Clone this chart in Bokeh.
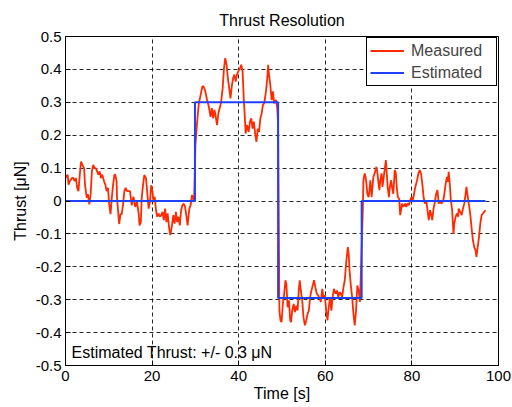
from bokeh.plotting import figure
from bokeh.models import FixedTicker, Label, Legend, LegendItem
from bokeh.embed import file_html
from bokeh.resources import INLINE

# ---------------- data ----------------
time_a = [0.0, 0.5, 0.7, 1.0, 1.5, 1.8, 2.1, 2.4, 2.7, 3.0, 3.3, 3.6, 3.9, 4.3, 4.5, 4.9, 5.2, 5.5, 5.8, 6.1,
          6.4, 6.7, 7.0, 7.3, 7.6, 7.9, 8.2, 8.5, 8.9, 9.2, 9.5, 9.8, 10.1, 10.4, 10.7, 11.0, 11.3, 11.5, 11.8, 11.9,
          12.2, 12.4, 12.7, 13.0, 13.3, 13.6, 13.9, 14.2, 14.5, 14.9]
thrust_a = [0.07, 0.08, 0.05, 0.06, 0.07, 0.07, 0.06, 0.07, 0.04, 0.03, 0.08, 0.12, 0.11, 0.10, 0.05, 0.01, 0.02, -0.01, 0.02, 0.09,
            0.11, 0.10, 0.10, 0.09, 0.08, 0.09, 0.07, 0.08, 0.06, 0.05, 0.03, 0.04, -0.01, -0.04, 0.01, 0.05, 0.08, 0.08, 0.06, 0.01,
            -0.04, -0.07, -0.04, -0.04, -0.01, 0.03, 0.04, 0.03, 0.03, 0.03]

time_b = [15.3, 15.7, 16.1, 16.5, 16.9, 17.1, 17.4, 17.6, 17.9, 18.2, 18.6, 18.8, 19.2, 19.5, 19.8, 20.1, 20.3, 20.6, 20.9, 21.2,
          21.5, 21.8, 22.1, 22.4, 22.7, 23.0, 23.3, 23.6, 23.9, 24.2, 24.6, 24.9, 25.2, 25.5, 25.8, 26.1, 26.4, 26.7, 27.0, 27.3,
          27.6, 27.9, 28.2, 28.6, 28.9, 29.2, 29.5, 29.7]
thrust_b = [-0.013, 0.013, -0.018, -0.003, -0.038, -0.074, -0.064, 0.008, 0.048, 0.079, 0.069, 0.038, -0.023, -0.003, 0.048, 0.028, -0.003, 0.013, -0.028, -0.048,
            -0.038, -0.048, -0.043, -0.033, -0.058, -0.023, -0.064, -0.038, -0.079, -0.104, -0.074, -0.043, -0.069, -0.033, -0.064, -0.048, -0.074, -0.028, -0.013, -0.008,
            -0.018, -0.043, -0.074, -0.023, -0.013, 0.018, 0.008, -0.003]

time_c = [30.0, 30.4, 30.8, 31.2, 31.6, 31.9, 32.3, 32.7, 33.1, 33.5, 33.8, 34.1, 34.4, 34.7, 35.0, 35.3, 35.6, 35.9, 36.3, 36.6,
          36.9, 37.2, 37.5, 37.8, 38.1, 38.4, 38.7, 39.0, 39.3, 39.6, 39.9, 40.3, 40.6, 40.9, 41.2, 41.4, 41.6, 41.9, 42.3, 42.6,
          42.9, 43.2, 43.5, 43.8, 44.1, 44.4, 44.7, 45.0, 45.3, 45.6, 45.9, 46.3, 46.6, 46.8, 47.0, 47.3, 47.6, 47.9, 48.2, 48.6,
          48.9, 49.1]
thrust_c = [0.17, 0.241, 0.297, 0.322, 0.348, 0.348, 0.333, 0.307, 0.287, 0.256, 0.282, 0.251, 0.277, 0.256, 0.231, 0.266, 0.282, 0.297, 0.343, 0.404,
            0.434, 0.414, 0.373, 0.343, 0.312, 0.348, 0.373, 0.384, 0.363, 0.384, 0.394, 0.404, 0.414, 0.394, 0.302, 0.261, 0.205, 0.231, 0.21, 0.241,
            0.251, 0.22, 0.241, 0.205, 0.18, 0.22, 0.21, 0.251, 0.266, 0.292, 0.297, 0.333, 0.373, 0.414, 0.384, 0.353, 0.307, 0.333, 0.297, 0.307,
            0.282, 0.23]

time_d = [49.4, 49.65, 49.9, 50.2, 50.5, 50.8, 51.0, 51.3, 51.6, 51.9, 52.1, 52.35, 52.7, 52.96, 53.3, 53.6, 53.9, 54.1, 54.35, 54.7,
          54.96, 55.3, 55.6, 55.9, 56.2, 56.5, 56.8, 57.1, 57.4, 57.7, 58.04, 58.35, 58.7, 58.96, 59.3, 59.6, 59.9, 60.2, 60.5, 60.8,
          61.1, 61.4, 61.7, 62.0, 62.4, 62.7, 63.0, 63.3, 63.6, 63.9, 64.2, 64.5, 64.8, 65.2, 65.4, 65.6, 65.9, 66.2, 66.5, 66.8,
          67.1, 67.4, 67.7, 68.0]
thrust_d = [-0.333, -0.363, -0.368, -0.313, -0.282, -0.241, -0.252, -0.323, -0.302, -0.363, -0.368, -0.333, -0.313, -0.338, -0.318, -0.333, -0.267, -0.241, -0.272, -0.307,
            -0.353, -0.378, -0.363, -0.343, -0.333, -0.292, -0.272, -0.257, -0.241, -0.262, -0.282, -0.287, -0.297, -0.307, -0.267, -0.297, -0.287, -0.333, -0.363, -0.323,
            -0.292, -0.333, -0.292, -0.267, -0.282, -0.272, -0.292, -0.277, -0.282, -0.292, -0.262, -0.241, -0.191, -0.14, -0.16, -0.211, -0.257, -0.292, -0.343, -0.378,
            -0.333, -0.257, -0.272, -0.307]

time_e = [68.5, 68.7, 68.8, 69.1, 69.3, 69.5, 69.7, 70.0, 70.2, 70.4, 70.7, 70.9, 71.1, 71.4, 71.6, 71.8, 72.05, 72.3, 72.5, 72.7,
          73.0, 73.2, 73.4, 73.7, 74.0, 74.2, 74.4, 74.7, 74.9, 75.2, 75.4, 75.7, 76.05, 76.3, 76.5, 76.75, 77.06, 77.3, 77.5, 77.7,
          78.0, 78.4, 78.7, 79.0, 79.3, 79.6, 79.9, 80.2, 80.5, 80.8, 81.2, 81.5, 81.8, 82.1, 82.4, 82.7, 83.0, 83.3, 83.6, 83.9,
          84.2]
thrust_e = [-0.1, -0.008, 0.063, 0.084, 0.073, 0.053, 0.022, 0.012, 0.033, 0.063, 0.012, 0.043, 0.073, 0.084, 0.094, 0.104, 0.084, 0.053, 0.033, 0.063,
            0.084, 0.043, 0.063, 0.094, 0.124, 0.084, 0.043, 0.012, 0.043, 0.063, 0.043, 0.022, 0.094, 0.084, 0.043, 0.012, 0.007, -0.043, -0.028, -0.008,
            -0.018, -0.008, -0.018, -0.008, -0.013, 0.002, 0.012, 0.002, 0.022, 0.043, 0.063, 0.084, 0.094, 0.084, 0.053, 0.012, -0.008, 0.002, -0.028, -0.058,
            -0.028]

time_f = [84.4, 84.7, 85.0, 85.3, 85.6, 85.9, 86.2, 86.5, 86.8, 87.1, 87.4, 87.8, 88.1, 88.3, 88.5, 88.8, 89.0, 89.3, 89.6, 89.8,
          90.1, 90.4, 90.7, 90.8, 91.2, 91.5, 91.8, 92.1, 92.4, 92.6, 92.8, 93.2, 93.5, 93.8, 94.1, 94.4, 94.7, 94.9, 95.2, 95.5,
          95.8, 96.1, 96.4, 96.7, 97.0]
thrust_f = [-0.038, -0.058, -0.023, -0.003, 0.022, 0.033, -0.008, 0.002, -0.008, -0.003, 0.012, 0.053, 0.073, 0.058, 0.089, 0.043, 0.002, -0.028, -0.1, -0.069,
            -0.048, -0.038, -0.048, -0.023, -0.033, -0.043, -0.023, -0.008, 0.022, 0.043, 0.022, -0.013, -0.043, -0.084, -0.12, -0.14, -0.15, -0.17, -0.14, -0.109,
            -0.069, -0.043, -0.038, -0.033, -0.028]

# Estimated thrust (step profile)
est_time = [0.0, 29.9, 29.9, 49.1, 49.1, 68.4, 68.4, 97.0]
est_thrust = [0.0, 0.0, 0.3, 0.3, -0.295, -0.295, 0.0, 0.0]

x_ticks = [0, 20, 40, 60, 80, 100]
y_ticks = [-0.5, -0.4, -0.3, -0.2, -0.1, 0, 0.1, 0.2, 0.3, 0.4, 0.5]
y_tick_labels = ["-0.5", "-0.4", "-0.3", "-0.2", "-0.1", "0", "0.1", "0.2", "0.3", "0.4", "0.5"]

meas_time = time_a + time_b + time_c + time_d + time_e + time_f
meas_thrust = thrust_a + thrust_b + thrust_c + thrust_d + thrust_e + thrust_f
n = min(len(meas_time), len(meas_thrust))
meas_time = meas_time[:n]
meas_thrust = meas_thrust[:n]

FONT = "Liberation Sans"

p = figure(width=512, height=407, x_range=(0, 100), y_range=(-0.5, 0.5),
           output_backend="svg", toolbar_location=None, title="Thrust Resolution",
           min_border_left=65, min_border_right=14, min_border_top=36, min_border_bottom=42)

p.title.align = "center"
p.title.text_font = FONT
p.title.text_font_size = "16px"
p.title.text_font_style = "normal"
p.title.text_color = "black"
p.title.standoff = 16

for ax in (p.xaxis[0], p.yaxis[0]):
    ax.major_tick_in = 5
    ax.major_tick_out = 0
    ax.minor_tick_line_color = None
    ax.axis_line_color = "black"
    ax.major_tick_line_color = "black"
    ax.major_label_text_font = FONT
    ax.major_label_text_font_size = "15px"
    ax.major_label_text_color = "black"
    ax.axis_label_text_font = FONT
    ax.axis_label_text_font_size = "16px"
    ax.axis_label_text_font_style = "normal"
    ax.axis_label_text_color = "black"

p.xaxis.ticker = FixedTicker(ticks=x_ticks)
p.yaxis.ticker = FixedTicker(ticks=y_ticks)
p.yaxis.major_label_overrides = {t: l for t, l in zip(y_ticks, y_tick_labels)}
p.xaxis.axis_label = "Time [s]"
p.yaxis.axis_label = "Thrust [\u03bcN]"
p.xaxis.major_label_standoff = 5
p.xaxis.axis_label_standoff = 1
p.yaxis.major_label_standoff = 4
p.yaxis.axis_label_standoff = 4

p.xgrid.ticker = FixedTicker(ticks=x_ticks)
p.ygrid.ticker = FixedTicker(ticks=y_ticks)
p.grid.grid_line_color = "black"
p.grid.grid_line_dash = "4 3"
p.grid.grid_line_alpha = 0.85

p.outline_line_color = "black"
p.outline_line_width = 1
p.outline_line_alpha = 1

r_meas = p.line(meas_time, meas_thrust, line_color="#ff2a00", line_width=1.8)
r_est = p.line(est_time, est_thrust, line_color="#2040ff", line_width=2)

legend = Legend(items=[LegendItem(label="Measured", renderers=[r_meas]),
                       LegendItem(label="Estimated", renderers=[r_est])],
                location="top_right")
legend.label_text_font = FONT
legend.label_text_font_size = "16px"
legend.border_line_color = "black"
legend.border_line_alpha = 1
legend.background_fill_alpha = 1
legend.margin = 1
legend.padding = 3
legend.spacing = 3
legend.glyph_width = 34
legend.glyph_height = 19
legend.label_height = 19
legend.label_width = 82
legend.label_standoff = 7
p.add_layout(legend)

lab = Label(x=1.4, y=-0.46, text="Estimated Thrust: +/- 0.3 \u03bcN", text_baseline="middle",
            text_font=FONT, text_font_size="16px", text_color="black")
p.add_layout(lab)

open("out.html", "w").write(file_html(p, INLINE))
